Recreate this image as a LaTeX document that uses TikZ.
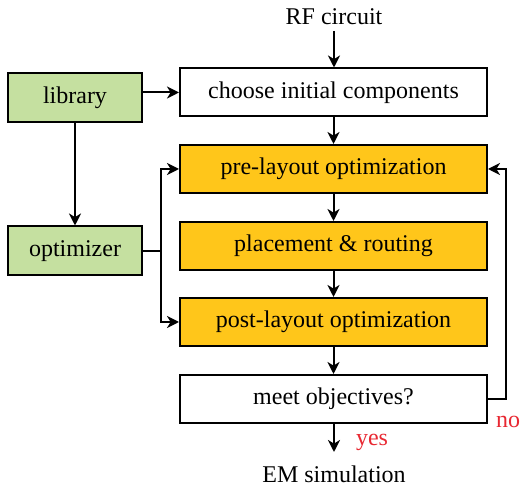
\documentclass[tikz,border=0pt]{standalone}
\usepackage{fontspec}
\setmainfont{Liberation Serif}
\usetikzlibrary{arrows.meta,positioning}
\definecolor{libgreen}{RGB}{197,224,160}
\definecolor{optorange}{RGB}{255,198,26}
\definecolor{labelred}{RGB}{232,40,50}
\begin{document}
\begin{tikzpicture}[x=0.5pt,y=-0.5pt,
  font=\fontsize{12}{14}\selectfont,
  flowbox/.style={draw,line width=1pt,minimum width=153.5pt,minimum height=24pt,inner sep=0pt},
  plainbox/.style={flowbox,fill=white},
  optbox/.style={flowbox,fill=optorange},
  sidebox/.style={draw,line width=1pt,fill=libgreen,minimum width=67pt,minimum height=24.5pt,inner sep=0pt},
  link/.style={line width=1pt,-{Stealth[length=6pt,width=6pt,inset=1.8pt]}},
  wire/.style={line width=1pt},
  answer/.style={text=labelred}]
  \useasboundingbox (0,0) rectangle (520,491);

  % main flow
  \node (rf) at (334,17) {RF circuit};
  \node[plainbox] (choose) at (333.5,92.5) {choose initial components};
  \node[optbox] (pre) at (333.5,169) {pre-layout optimization};
  \node[optbox] (place) at (333.5,246) {placement \& routing};
  \node[optbox] (post) at (333.5,322) {post-layout optimization};
  \node[plainbox] (meet) at (333.5,399) {meet objectives?};
  \node (em) at (334,474) {EM simulation};

  % side blocks
  \node[sidebox] (lib) at (75,97.5) {library};
  \node[sidebox] (opt) at (75,251) {optimizer};

  % labels
  \node[answer] (yes) at (372,442) {yes};
  \node[answer] (no) at (508,422) {no};
  \coordinate (emtop) at (334,452);
  \coordinate (rfbot) at (334,31);

  % vertical chain
  \draw[link] (rfbot) -- (choose.north -| rfbot);
  \draw[link] (choose) -- (pre);
  \draw[link] (pre) -- (place);
  \draw[link] (place) -- (post);
  \draw[link] (post) -- (meet);
  \draw[link] (meet.south -| emtop) -- (emtop);

  % library feeds
  \draw[link] (choose.west -| lib.east) -- (choose.west);
  \draw[link] (lib) -- (opt);

  % optimizer feeds both optimization stages
  \coordinate (bus) at (161,251);
  \draw[wire] (opt.east) -- (bus);
  \draw[link] (bus) |- (pre.west);
  \draw[link] (bus) |- (post.west);

  % feedback loop
  \coordinate (back) at (506,399);
  \draw[link] (meet.east) -- (back) |- (pre.east);
\end{tikzpicture}
\end{document}
